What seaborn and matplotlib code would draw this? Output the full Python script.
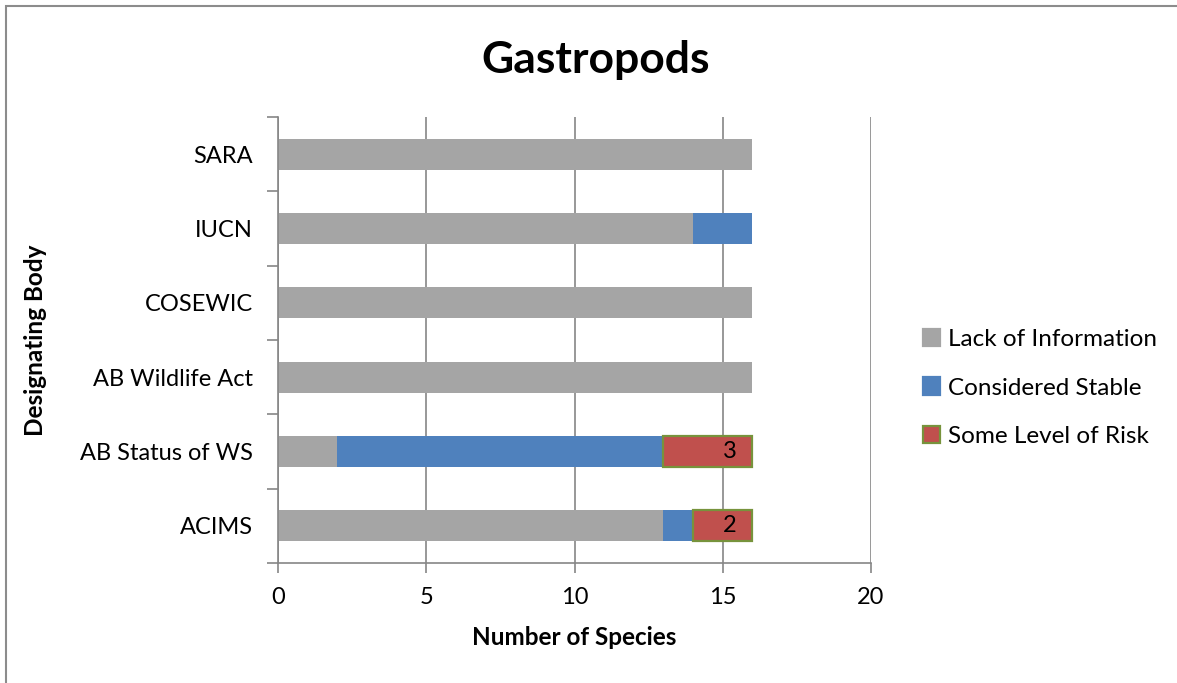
import matplotlib
matplotlib.use("Agg")
import matplotlib.pyplot as plt
from matplotlib.patches import Rectangle, Patch
from matplotlib.ticker import FixedLocator
import numpy as np
import pandas as pd
import seaborn as sns

# Status counts of gastropod species per designating body
bodies = ["SARA", "IUCN", "COSEWIC", "AB Wildlife Act", "AB Status of WS", "ACIMS"]
lack_of_information = [16, 14, 16, 16, 2, 13]
considered_stable = [0, 2, 0, 0, 11, 1]
some_level_of_risk = [0, 0, 0, 0, 3, 2]

series_names = ["Lack of Information", "Considered Stable", "Some Level of Risk"]
series_values = [lack_of_information, considered_stable, some_level_of_risk]
series_colors = ["#A5A5A5", "#4F81BD", "#C0504D"]
series_edges = ["none", "none", "#77933C"]

sns.set_theme(style="white")
plt.rcParams["font.family"] = ["Lato", "DejaVu Sans"]
plt.rcParams["text.color"] = "black"
plt.rcParams["axes.labelcolor"] = "black"
plt.rcParams["xtick.labelcolor"] = "black"
plt.rcParams["ytick.labelcolor"] = "black"

fig = plt.figure(figsize=(11.77, 6.83), dpi=100)
ax = fig.add_axes([278 / 1177, 1 - 563 / 683, (871 - 278) / 1177, (563 - 117) / 683])

grid_col = "#868686"
ax.set_axisbelow(True)
ax.xaxis.grid(True, color=grid_col, linewidth=1.2)

left = np.zeros(len(bodies))
for name, vals, col, edge in zip(series_names, series_values, series_colors, series_edges):
    df = pd.DataFrame({"body": bodies, "count": vals})
    before = len(ax.patches)
    sns.barplot(data=df, x="count", y="body", order=bodies, orient="h",
                color=col, saturation=1, width=0.42, ax=ax,
                edgecolor=edge, linewidth=1.6 if edge != "none" else 0)
    new = ax.patches[before:]
    for i, p in enumerate(new):
        p.set_x(left[i])
        p.set_facecolor(col)
        if vals[i] == 0:
            p.set_visible(False)
    left = left + np.array(vals, dtype=float)

# value labels on the risk segments
for i, v in enumerate(some_level_of_risk):
    if v > 0:
        ax.text(left[i] - 0.75, i, str(v), ha="center", va="center",
                fontsize=17, color="black")

ax.set_xlim(0, 20)
ax.set_ylim(len(bodies) - 0.5, -0.5)
ax.set_xticks([0, 5, 10, 15, 20])
ax.tick_params(axis="x", which="major", direction="out", length=7, width=1.2,
               color=grid_col, labelsize=17, pad=10, bottom=True)
ax.tick_params(axis="y", which="major", length=0, labelsize=17, pad=18)
ax.yaxis.set_minor_locator(FixedLocator(np.arange(-0.5, len(bodies), 1.0)))
ax.tick_params(axis="y", which="minor", direction="out", length=8, width=1.2,
               color=grid_col, left=True)

for side in ["top", "right"]:
    ax.spines[side].set_visible(False)
for side in ["left", "bottom"]:
    ax.spines[side].set_color(grid_col)
    ax.spines[side].set_linewidth(1.2)

ax.set_xlabel("Number of Species", fontsize=17.5, fontweight="bold", labelpad=13)
ax.set_ylabel("Designating Body", fontsize=17.5, fontweight="bold", labelpad=24)

fig.text(596 / 1177, 1 - 60 / 683, "Gastropods", ha="center", va="center",
         fontsize=32, fontweight="bold", color="black")

handles = [Patch(facecolor=c, edgecolor=(e if e != "none" else c), linewidth=1.6)
           for c, e in zip(series_colors, series_edges)]
fig.legend(handles, series_names, loc="center left",
           bbox_to_anchor=(913 / 1177, 1 - 388 / 683), frameon=False,
           fontsize=17.5, labelspacing=1.13, handlelength=0.7, handleheight=0.7,
           handletextpad=0.35, borderaxespad=0)

# chart border
fig.add_artist(Rectangle((6 / 1177, -0.1), 1.2, 1.1 - 6 / 683,
                         transform=fig.transFigure, fill=False,
                         edgecolor="#8C8C8C", linewidth=1.5))

fig.savefig("out.png", dpi=100)
